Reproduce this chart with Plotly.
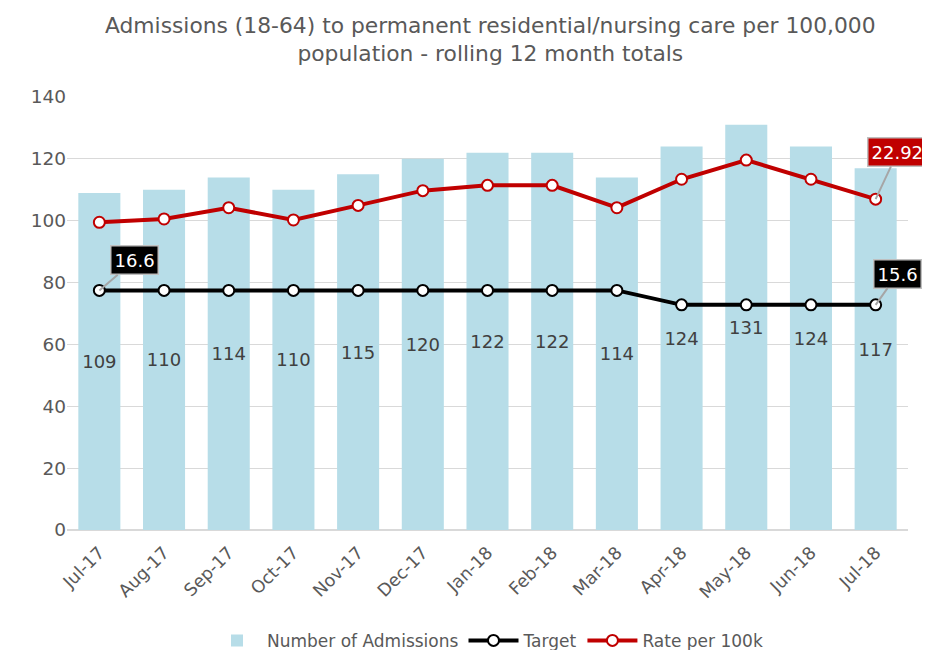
import plotly.graph_objects as go

months = ["Jul-17", "Aug-17", "Sep-17", "Oct-17", "Nov-17", "Dec-17", "Jan-18",
          "Feb-18", "Mar-18", "Apr-18", "May-18", "Jun-18", "Jul-18"]
admissions = [109, 110, 114, 110, 115, 120, 122, 122, 114, 124, 131, 124, 117]
target = [16.6, 16.6, 16.6, 16.6, 16.6, 16.6, 16.6, 16.6, 16.6, 15.6, 15.6, 15.6, 15.6]
rate = [21.32, 21.55, 22.33, 21.48, 22.49, 23.51, 23.88, 23.88, 22.33, 24.30, 25.63, 24.30, 22.92]

FONT = "DejaVu Sans"
GREY = "#595959"

fig = go.Figure()
fig.add_trace(go.Bar(
    x=months, y=admissions, name="Number of Admissions",
    marker=dict(color="#B7DDE8", line=dict(width=0)),
    width=0.65,
    text=[str(v) for v in admissions], textposition="inside",
    insidetextanchor="middle", textangle=0,
    textfont=dict(size=18, color="#404040", family=FONT),
    hoverinfo="x+y",
))
fig.add_trace(go.Scatter(
    x=months, y=target, name="Target", yaxis="y2", mode="lines+markers",
    line=dict(color="black", width=4),
    marker=dict(symbol="circle", size=11, color="white", line=dict(color="black", width=2)),
))
fig.add_trace(go.Scatter(
    x=months, y=rate, name="Rate per 100k", yaxis="y2", mode="lines+markers",
    line=dict(color="#C00000", width=4),
    marker=dict(symbol="circle", size=11, color="white", line=dict(color="#C00000", width=2)),
))

def callout(xv, yv, txt, bg, ax, ay):
    return dict(x=xv, y=yv, xref="x", yref="y2", text=txt, showarrow=True,
                arrowhead=0, arrowwidth=2, arrowcolor="#A6A6A6", ax=ax, ay=ay,
                bgcolor=bg, bordercolor="#BFBFBF", borderwidth=1.5, borderpad=3,
                font=dict(size=18, color="white", family=FONT), standoff=0)

fig.update_layout(
    width=922, height=642,
    paper_bgcolor="white", plot_bgcolor="white",
    margin=dict(l=59, r=22, t=89, b=120, autoexpand=False),
    font=dict(family=FONT, color=GREY),
    bargap=0.35,
    xaxis=dict(range=[-0.5, len(months) - 0.5], tickangle=-45,
               tickfont=dict(size=17.5, color=GREY), showgrid=False,
               showline=False, ticks="", automargin=False, ticklabelstandoff=8),
    yaxis=dict(range=[0, 140], dtick=20, tickfont=dict(size=18.5, color=GREY),
               gridcolor="#D9D9D9", gridwidth=1, zeroline=True, zerolinecolor="#D9D9D9",
               zerolinewidth=2, ticks="", ticklen=0, automargin=False),
    yaxis2=dict(range=[0, 30], overlaying="y", side="right", visible=False),
    legend=dict(orientation="h", x=0.5, xanchor="center", y=-0.256, yanchor="middle",
                font=dict(size=17, color=GREY, family=FONT), itemwidth=50,
                traceorder="normal"),
    showlegend=True,
    annotations=[
        dict(text="Admissions (18-64) to permanent residential/nursing care per 100,000<br>population - rolling 12 month totals",
             xref="paper", yref="paper", x=0.503, y=(522 - 31.5) / 433, xanchor="center",
             yanchor="middle", showarrow=False, align="center",
             font=dict(size=21.8, color=GREY, family=FONT)),
        callout(months[0], target[0], str(target[0]), "black", 35, -30),
        callout(months[-1], target[-1], str(target[-1]), "black", 22, -31),
        callout(months[-1], rate[-1], str(rate[-1]), "#C00000", 22, -47),
    ],
)
fig.write_html("out.html")
